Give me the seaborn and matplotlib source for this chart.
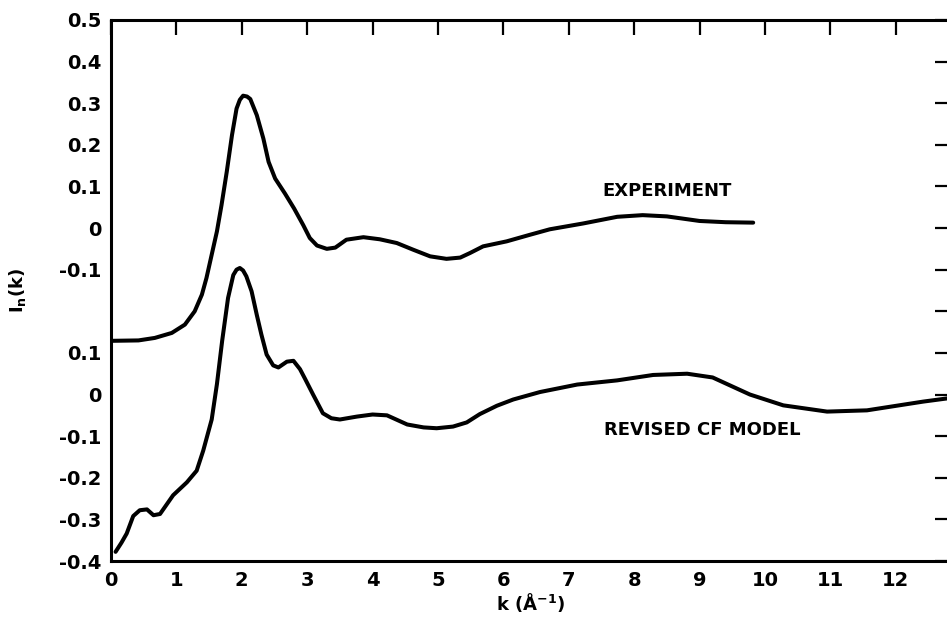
import numpy as np
import pandas as pd
import seaborn as sns
import matplotlib
matplotlib.use("Agg")
import matplotlib.pyplot as plt

# Normalised interference function I_n(k), measured and model
k_exp = [0.0, 0.42, 0.67, 0.93, 1.13, 1.28, 1.39, 1.46, 1.54, 1.62, 1.69,
         1.77, 1.85, 1.92, 1.97, 2.02, 2.08, 2.13, 2.23, 2.33, 2.41, 2.51,
         2.66, 2.80, 2.94, 3.04, 3.15, 3.30, 3.43, 3.60, 3.86, 4.11, 4.37,
         4.62, 4.88, 5.13, 5.34, 5.49, 5.69, 6.05, 6.41, 6.71, 7.22, 7.74,
         8.13, 8.50, 9.0, 9.4, 9.82]
i_exp = [-0.271, -0.270, -0.264, -0.252, -0.232, -0.200, -0.160, -0.120,
         -0.064, -0.008, 0.055, 0.135, 0.223, 0.287, 0.308, 0.318, 0.316,
         0.310, 0.271, 0.215, 0.159, 0.119, 0.083, 0.047, 0.007, -0.024,
         -0.042, -0.050, -0.047, -0.028, -0.022, -0.027, -0.036, -0.052,
         -0.068, -0.074, -0.071, -0.060, -0.044, -0.032, -0.016, -0.003,
         0.011, 0.027, 0.031, 0.028, 0.017, 0.014, 0.013]

k_model = [0.07, 0.16, 0.24, 0.34, 0.44, 0.55, 0.65, 0.75, 0.95, 1.16,
           1.31, 1.41, 1.54, 1.62, 1.70, 1.79, 1.87, 1.92, 1.97, 2.02, 2.07,
           2.15, 2.23, 2.30, 2.38, 2.48, 2.56, 2.69, 2.79, 2.89, 2.97, 3.09,
           3.24, 3.37, 3.50, 3.76, 4.0, 4.22, 4.53, 4.78, 4.98, 5.23, 5.44,
           5.64, 5.90, 6.15, 6.56, 7.13, 7.74, 8.29, 8.81, 9.2, 9.77, 10.28,
           10.95, 11.56, 12.42, 12.85]
i_model = [-0.378, -0.356, -0.334, -0.292, -0.278, -0.276, -0.290, -0.287,
           -0.242, -0.211, -0.183, -0.135, -0.060, 0.025, 0.129, 0.232,
           0.287, 0.300, 0.304, 0.298, 0.284, 0.248, 0.191, 0.144, 0.096,
           0.070, 0.065, 0.079, 0.081, 0.061, 0.037, 0.0, -0.045, -0.057,
           -0.060, -0.053, -0.048, -0.050, -0.072, -0.079, -0.081, -0.077,
           -0.067, -0.047, -0.027, -0.012, 0.006, 0.024, 0.034, 0.047,
           0.050, 0.041, 0.0, -0.026, -0.041, -0.038, -0.017, -0.008]

x_ticks = list(range(0, 13))
# the experimental curve is shifted up by 0.4 so both share one frame
exp_shift = 0.4
y_ticks = [-0.4, -0.3, -0.2, -0.1, 0.0, 0.1, 0.2, 0.3, 0.4, 0.5, 0.6, 0.7, 0.8, 0.9]
y_tick_labels = ["-0.4", "-0.3", "-0.2", "-0.1", "0", "0.1", "",
                 "-0.1", "0", "0.1", "0.2", "0.3", "0.4", "0.5"]

sns.set_theme(style="white")
plt.rcParams["font.family"] = ["DejaVu Sans"]
plt.rcParams["text.color"] = "black"
plt.rcParams["axes.labelcolor"] = "black"

df_exp = pd.DataFrame({"k": k_exp, "I": np.array(i_exp) + exp_shift})
df_model = pd.DataFrame({"k": k_model, "I": i_model})

fig = plt.figure(figsize=(9.47, 6.23), dpi=100)
ax = fig.add_axes([0.1172, 0.0995, 0.886, 0.8685])

line_kw = dict(color="black", linewidth=2.9, sort=False, estimator=None)
sns.lineplot(data=df_exp, x="k", y="I", ax=ax, **line_kw)
sns.lineplot(data=df_model, x="k", y="I", ax=ax, **line_kw)
for ln in ax.get_lines():
    ln.set_solid_joinstyle("round")
    ln.set_solid_capstyle("round")

ax.set_xlim(0, 12.83)
ax.set_ylim(-0.4, 0.9)
ax.set_xticks(x_ticks)
ax.set_xticklabels([str(t) for t in x_ticks])
ax.set_yticks(y_ticks)
ax.set_yticklabels(y_tick_labels)

for side in ["left", "right", "top", "bottom"]:
    ax.spines[side].set_visible(True)
    ax.spines[side].set_color("black")
    ax.spines[side].set_linewidth(2.2)

ax.tick_params(axis="both", which="major", direction="in", length=11,
               width=1.6, color="black", top=True, right=True,
               labelsize=14, labelcolor="black", pad=7)
for lab in ax.get_xticklabels() + ax.get_yticklabels():
    lab.set_fontweight("bold")

ax.set_xlabel(r"k ($\mathregular{\AA^{-1}}$)", fontsize=13, fontweight="bold",
              labelpad=1)
ax.set_ylabel(r"I$_\mathregular{n}$(k)", fontsize=13, fontweight="bold",
              labelpad=22)

ax.text(8.5, 0.488, "EXPERIMENT", fontsize=13, fontweight="bold",
        ha="center", va="center")
ax.text(9.04, -0.086, "REVISED CF MODEL", fontsize=13, fontweight="bold",
        ha="center", va="center")

fig.savefig("out.png", dpi=100)
